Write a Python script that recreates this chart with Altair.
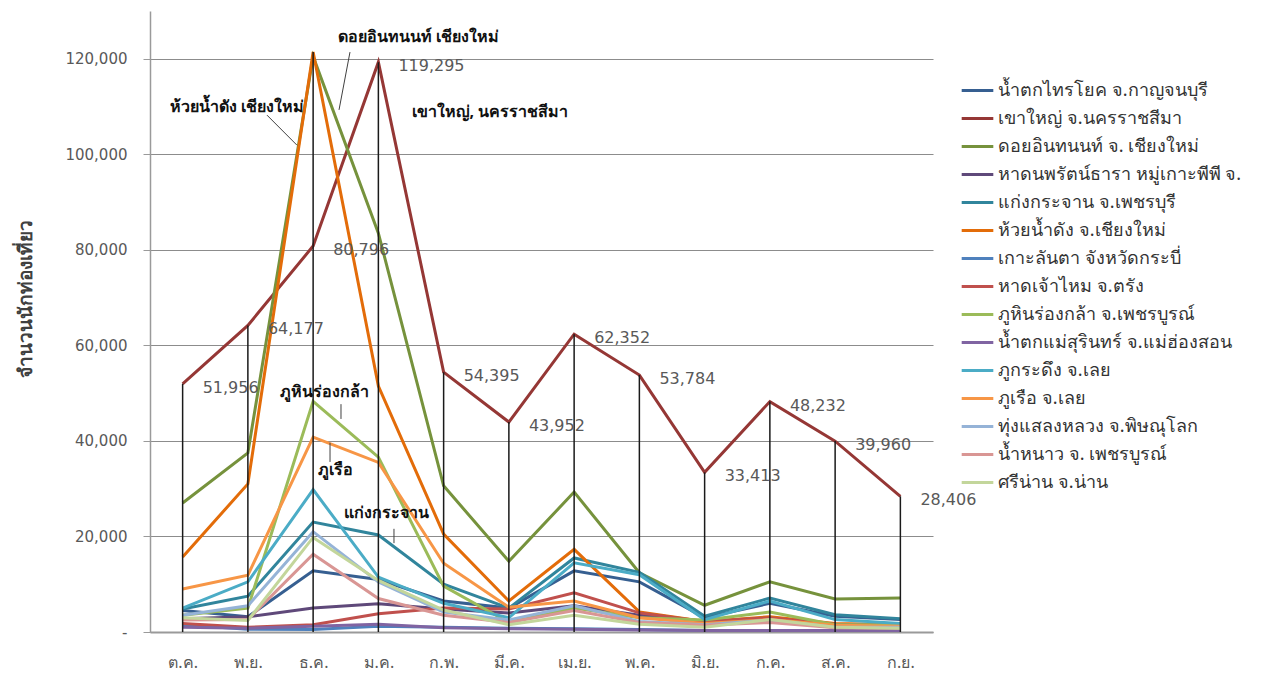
import altair as alt
import pandas as pd

months = ["ต.ค.", "พ.ย.", "ธ.ค.", "ม.ค.", "ก.พ.", "มี.ค.", "เม.ย.", "พ.ค.", "มิ.ย.", "ก.ค.", "ส.ค.", "ก.ย."]

series_names = [
    "น้ำตกไทรโยค จ.กาญจนบุรี",
    "เขาใหญ่ จ.นครราชสีมา",
    "ดอยอินทนนท์ จ. เชียงใหม่",
    "หาดนพรัตน์ธารา หมู่เกาะพีพี จ.",
    "แก่งกระจาน จ.เพชรบุรี",
    "ห้วยน้ำดัง จ.เชียงใหม่",
    "เกาะลันตา จังหวัดกระบี่",
    "หาดเจ้าไหม จ.ตรัง",
    "ภูหินร่องกล้า จ.เพชรบูรณ์",
    "น้ำตกแม่สุรินทร์ จ.แม่ฮ่องสอน",
    "ภูกระดึง จ.เลย",
    "ภูเรือ จ.เลย",
    "ทุ่งแสลงหลวง จ.พิษณุโลก",
    "น้ำหนาว จ. เพชรบูรณ์",
    "ศรีน่าน จ.น่าน",
]

colors = [
    "#365F91", "#953735", "#76923C", "#5F497A", "#31859C", "#E36C09",
    "#4F81BD", "#C0504D", "#9BBB59", "#8064A2", "#4BACC6", "#F79646",
    "#95B3D7", "#D99694", "#C3D69B",
]

v_saiyok = [4500, 3200, 12800, 11000, 6500, 5000, 12800, 10500, 3000, 6000, 3300, 2600]
v_khaoyai = [51956, 64177, 80796, 119295, 54395, 43952, 62352, 53784, 33413, 48232, 39960, 28406]
v_inthanon = [27000, 37500, 120500, 83500, 30600, 14800, 29300, 12400, 5600, 10500, 6900, 7100]
v_noppharat = [2800, 3200, 5000, 5900, 4800, 4000, 5500, 3500, 2200, 2400, 1500, 1400]
v_kaengkrachan = [4800, 7500, 23000, 20300, 10000, 5000, 15500, 12500, 3300, 7100, 3600, 2800]
v_huainamdang = [15700, 31000, 121400, 51500, 20500, 6500, 17300, 4200, 2200, 3200, 1800, 1500]
v_lanta = [1500, 600, 500, 1200, 1000, 800, 700, 500, 300, 300, 300, 300]
v_chaomai = [1800, 1000, 1500, 3800, 5000, 4800, 8200, 4000, 2200, 3000, 1600, 1500]
v_phuhinrongkla = [3500, 5000, 48300, 36600, 9600, 2000, 5000, 3000, 2500, 4200, 1500, 1500]
v_maesurin = [1000, 800, 1200, 1600, 900, 700, 600, 400, 300, 300, 300, 300]
v_phukradueng = [5000, 10500, 29800, 11500, 6000, 3000, 14500, 12000, 2600, 6500, 2600, 1800]
v_phuruea = [9000, 11900, 40800, 35500, 14400, 5200, 6500, 3000, 1800, 2600, 1400, 1200]
v_thungsalaeng = [3500, 5500, 21000, 10500, 4200, 2500, 5500, 2200, 1500, 2500, 1000, 1000]
v_namnao = [2500, 2600, 16300, 7000, 3500, 2000, 4500, 2000, 1400, 2000, 900, 800]
v_srinan = [3000, 2400, 19800, 10800, 4600, 1500, 3500, 1600, 1000, 2600, 1000, 800]

all_values = [
    v_saiyok, v_khaoyai, v_inthanon, v_noppharat, v_kaengkrachan, v_huainamdang,
    v_lanta, v_chaomai, v_phuhinrongkla, v_maesurin, v_phukradueng, v_phuruea,
    v_thungsalaeng, v_namnao, v_srinan,
]

# callout annotations (text, x position in month index, y value)
ann_text = ["ดอยอินทนนท์ เชียงใหม่", "ห้วยน้ำดัง เชียงใหม่", "เขาใหญ่, นครราชสีมา",
            "ภูหินร่องกล้า", "ภูเรือ", "แก่งกระจาน"]
ann_x = [3.61, 0.83, 4.71, 2.18, 2.34, 3.12]
ann_y = [124500, 109900, 108900, 50200, 33900, 24900]

lead_x1 = [2.565, 1.293, 2.427, 2.259, 3.239]
lead_y1 = [121400, 108200, 47700, 39600, 21600]
lead_x2 = [2.397, 1.753, 2.427, 2.259, 3.239]
lead_y2 = [109300, 101900, 44600, 35600, 18600]

rows = []
for s, name in enumerate(series_names):
    for i, m in enumerate(months):
        rows.append({"series": name, "sidx": s, "idx": i, "month": m, "value": all_values[s][i]})
df = pd.DataFrame(rows)
khao_df = df[df["series"] == series_names[1]]
ann_df = pd.DataFrame({"text": ann_text, "ax": ann_x, "ay": ann_y})
lead_df = pd.DataFrame({"x1": lead_x1, "y1": lead_y1, "x2": lead_x2, "y2": lead_y2})

thai_font = "Noto Sans, DejaVu Sans, sans-serif"
num_font = "DejaVu Sans"

xscale = alt.Scale(domain=[-0.5, 11.5], nice=False, zero=False)
yscale = alt.Scale(domain=[0, 130000], nice=False)

month_expr = "[" + ",".join("'" + m + "'" for m in months) + "][datum.value]"

x_axis = alt.Axis(
    values=list(range(12)), labelExpr=month_expr, title=None, grid=False, ticks=False,
    domainColor="#9a9a9a", domainWidth=2, labelPadding=22, labelFont=thai_font,
    labelFontSize=16, labelColor="#595959",
)
y_axis = alt.Axis(
    values=[0, 20000, 40000, 60000, 80000, 100000, 120000],
    labelExpr="datum.value == 0 ? '-\u00a0\u00a0' : format(datum.value, ',')",
    title="จำนวนนักท่องเที่ยว", titleX=-125, titleY=287, titleAngle=270,
    titleAlign="center", titleBaseline="middle", titleFontWeight="bold",
    titleFontSize=19, titleFont=thai_font, titleColor="#404040",
    grid=True, gridColor="#8c8c8c", gridWidth=1.2,
    domainColor="#9a9a9a", domainWidth=1.5, tickColor="#9a9a9a", tickSize=7,
    labelPadding=16, labelFont=num_font, labelFontSize=15, labelColor="#595959",
)

X = lambda f: alt.X(f, scale=xscale, axis=x_axis)
Y = lambda f: alt.Y(f, scale=yscale, axis=y_axis)

lines = alt.Chart(df).mark_line(strokeWidth=3).encode(
    x=X("idx:Q"),
    y=Y("value:Q"),
    color=alt.Color(
        "series:N",
        scale=alt.Scale(domain=series_names, range=colors),
        legend=alt.Legend(
            title=None, orient="none", legendX=810, legendY=62, symbolType="stroke",
            symbolSize=1000, symbolStrokeWidth=3, labelFontSize=18, labelFont=thai_font,
            labelColor="#333333", labelOffset=3, rowPadding=1, padding=0, labelLimit=320,
        ),
    ),
    detail="sidx:N",
)

drops = alt.Chart(df).transform_aggregate(
    maxv="max(value)", groupby=["idx"]
).mark_rule(color="#1a1a1a", strokeWidth=1.5).encode(
    x=X("idx:Q"),
    y=Y("maxv:Q"),
    y2=alt.datum(0),
)

labels = alt.Chart(khao_df).mark_text(
    align="left", baseline="middle", dx=20, dy=4, fontSize=16, font=num_font, color="#595959"
).encode(
    x=X("idx:Q"),
    y=Y("value:Q"),
    text=alt.Text("value:Q", format=","),
)

ann = alt.Chart(ann_df).mark_text(
    align="center", baseline="middle", fontSize=16, fontWeight="bold", font=thai_font, color="#111111"
).encode(
    x=X("ax:Q"),
    y=Y("ay:Q"),
    text="text:N",
)

leads = alt.Chart(lead_df).mark_rule(color="#404040", strokeWidth=1).encode(
    x=X("x1:Q"),
    y=Y("y1:Q"),
    x2="x2:Q",
    y2="y2:Q",
)

chart = alt.layer(lines, drops, labels, ann, leads).properties(
    width=783,
    height=621,
    autosize=alt.AutoSizeParams(type="none"),
    padding={"left": 142, "top": 3, "right": 331, "bottom": 44},
    background="white",
).configure_view(stroke=None)

chart.save("out.html", embed_options={"renderer": "svg", "actions": False})
